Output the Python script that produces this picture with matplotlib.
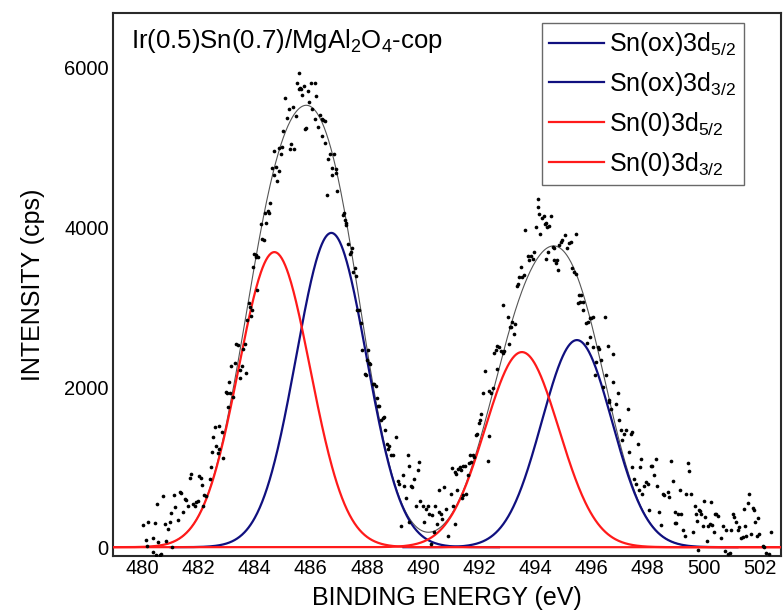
import numpy as np
import matplotlib
matplotlib.use("Agg")
import matplotlib.pyplot as plt

plt.rcParams['font.family'] = ['Liberation Sans', 'DejaVu Sans']
plt.rcParams['mathtext.fontset'] = 'custom'
plt.rcParams['mathtext.rm'] = 'Liberation Sans'
plt.rcParams['mathtext.it'] = 'Liberation Sans:italic'

# ---- measured Sn 3d spectrum (binding energy in eV, intensity in cps) ----
energy_a = [480.02, 480.14, 480.16, 480.20, 480.37, 480.37, 480.43, 480.49, 480.52, 480.56,
            480.62, 480.67, 480.73, 480.79, 480.85, 480.91, 480.97, 481.02, 481.06, 481.14,
            481.17, 481.27, 481.32, 481.38, 481.44, 481.50, 481.56, 481.61, 481.68, 481.74,
            481.80, 481.86, 481.92, 481.97, 482.03, 482.09, 482.13, 482.14, 482.21, 482.26,
            482.39, 482.43, 482.48, 482.51, 482.57, 482.62, 482.68, 482.72, 482.74, 482.83,
            482.86, 482.98]
counts_a = [280, 90, 10, 320, 120, -65, 300, -95, 540, 60,
            -95, -80, 640, 290, 80, 230, 320, 430, 5, 650,
            500, 340, 690, 680, 440, 600, 590, 510, 870, 920,
            540, 520, 560, 580, 890, 870, 780, 520, 650, 640,
            850, 1000, 1190, 1380, 1500, 1270, 1180, 1520, 1230, 1440,
            1110, 1940]

energy_b = [483.00, 483.05, 483.09, 483.11, 483.17, 483.23, 483.29, 483.33, 483.41, 483.47,
            483.49, 483.53, 483.59, 483.65, 483.70, 483.74, 483.80, 483.84, 483.88, 483.91,
            483.94, 483.99, 484.03, 484.05, 484.08, 484.11,
            484.24, 484.27, 484.32, 484.38, 484.41, 484.47, 484.50, 484.55, 484.62, 484.67,
            484.70, 484.76, 484.80, 484.85, 484.88, 484.94, 484.97, 485.02, 485.07, 485.14,
            485.21, 485.26, 485.31, 485.35, 485.41, 485.47, 485.49,
            485.56, 485.59, 485.61, 485.66, 485.70, 485.76, 485.80, 485.84, 485.89, 485.94,
            486.00, 486.05, 486.13, 486.15, 486.20, 486.26, 486.32, 486.39, 486.41, 486.44,
            486.50, 486.51, 486.56, 486.61, 486.67, 486.74, 486.76, 486.82, 486.88, 486.90,
            486.93]
counts_b = [1930, 1750, 2060, 1930, 2260, 1880, 2300, 2540, 2530, 2210,
            2110, 2260, 2480, 2540, 2180, 2840, 3050, 3000, 2890, 2970,
            3500, 3670, 3630, 3660, 3210, 3630,
            4040, 3850, 3840, 4180, 4050, 4210, 4180, 4310, 4740, 4950,
            4650, 4760, 4580, 4700, 4990, 4920, 5000, 5200, 5620, 5370,
            5480, 4980, 5040, 5510, 4980, 5390, 5800,
            5730, 5930, 5740, 5730, 5660, 5770, 5230, 5240, 5710, 5570,
            5810, 5480, 5350, 5800, 5640, 5260, 5410, 5350, 5140, 5340,
            5330, 5060, 4410, 4860, 4920, 4650, 4740, 4920, 4730, 4680,
            4450]

energy_c = [487.13, 487.17, 487.21, 487.24, 487.27, 487.32, 487.38, 487.44, 487.48, 487.50,
            487.56, 487.61, 487.64, 487.72, 487.80, 487.84, 487.92, 487.95, 488.00, 488.03,
            488.07, 488.11,
            488.21, 488.26, 488.32, 488.35, 488.38, 488.42, 488.51, 488.57, 488.62, 488.63,
            488.70, 488.74, 488.80, 488.86, 488.91, 489.03, 489.09, 489.15, 489.21, 489.27,
            489.33, 489.39, 489.45, 489.48, 489.51, 489.56, 489.62, 489.68, 489.74, 489.81,
            489.87, 489.89, 489.98,
            490.04, 490.10, 490.16, 490.22, 490.27, 490.33, 490.40, 490.43, 490.48, 490.55,
            490.57, 490.63, 490.69, 490.75, 490.81]
counts_c = [4150, 4180, 4090, 4060, 4030, 3790, 3670, 3690, 3740, 3440,
            3490, 3390, 2960, 2960, 2800, 2460, 2170, 2150, 2340, 2460,
            2300, 2290,
            2040, 2040, 2020, 1860, 1770, 1760, 1590, 1610, 1630, 1460,
            1290, 1230, 1270, 1150, 1150, 1380, 830, 790, 270, 900,
            770, 620, 1150, 1020, 310, 770, 750, 850, 520, 960,
            1060, 580, 520,
            310, 480, 520, 420, 40, 400, 190, 520, 290, 710,
            440, 420, 350, 750, 480]

energy_d = [490.89, 491.00, 491.04, 491.06, 491.12, 491.13, 491.18, 491.19, 491.24, 491.30,
            491.36, 491.37, 491.42, 491.43, 491.48, 491.54, 491.59, 491.65, 491.66, 491.71,
            491.77, 491.83, 491.88, 491.91, 491.99,
            492.01, 492.07, 492.13, 492.19, 492.30, 492.34, 492.36, 492.42, 492.48, 492.53,
            492.59, 492.62, 492.65, 492.69, 492.77, 492.83, 492.84, 492.88, 493.01, 493.07,
            493.09, 493.13, 493.18, 493.24, 493.28,
            493.36, 493.39, 493.42, 493.47, 493.53, 493.60, 493.64, 493.72, 493.78, 493.83,
            493.92, 493.95, 494.01, 494.08, 494.11, 494.14, 494.16, 494.23, 494.31, 494.35,
            494.37, 494.39, 494.43, 494.46, 494.48,
            494.55, 494.61, 494.67, 494.68, 494.73, 494.78, 494.82, 494.84, 494.90, 494.96,
            495.05, 495.13]
counts_d = [140, 670, 990, 510, 940, 290, 920, 710, 980, 1000,
            960, 620, 1010, 650, 1020, 670, 900, 1050, 1150, 1060,
            1150, 1130, 1400, 1410, 1550,
            1590, 1670, 1930, 2200, 1080, 1950, 1390, 1930, 1990, 2430,
            2460, 2230, 2520, 2500, 2450, 2430, 3030, 2450, 2880, 2540,
            2750, 2750, 2820, 2660, 2790,
            3260, 3290, 3380, 3500, 3380, 3400, 3970, 3640, 3590, 3640,
            3600, 3690, 4010, 4260, 4360, 4170, 3920, 4120, 4140, 4040,
            4060, 3610, 4010, 3690, 4020,
            4140, 3760, 3590, 3740, 3550, 3590, 3470, 3780, 3820, 3840,
            3910, 3740]

energy_e = [495.21, 495.28, 495.29, 495.36, 495.43, 495.46, 495.51, 495.55, 495.60, 495.63,
            495.69, 495.71, 495.82, 495.83, 495.87, 495.93, 495.96, 495.99, 496.05, 496.06,
            496.11, 496.17, 496.22, 496.28, 496.35, 496.41, 496.47, 496.52, 496.58, 496.62,
            496.64, 496.70, 496.76, 496.78, 496.87, 496.93, 496.99, 497.05, 497.10, 497.17,
            497.23, 497.29, 497.35, 497.41, 497.44, 497.46, 497.52, 497.58, 497.64, 497.70,
            497.71, 497.76, 497.81, 497.87, 497.94, 498.00, 498.06, 498.11, 498.17, 498.23,
            498.29, 498.35]
counts_e = [3810, 3820, 3490, 3440, 3920, 3420, 3050, 3150, 3070, 3150,
            2960, 3070, 2800, 2550, 2820, 2860, 2630, 2860, 2880, 2500,
            2150, 2320, 2500, 2480, 2340, 2000, 2880, 2150, 2520, 1840,
            1810, 1730, 2060, 2410, 1790, 1930, 1590, 1460, 1340, 1420,
            1460, 1730, 1190, 1420, 1440, 1000, 850, 790, 1290, 710,
            1000, 1100, 670, 770, 810, 790, 460, 1020, 1020, 900,
            1100, 770]

energy_f = [498.42, 498.47, 498.54, 498.60, 498.72, 498.77, 498.83, 498.90, 498.96, 498.97,
            499.02, 499.08, 499.14, 499.20, 499.26, 499.32, 499.38,
            499.43, 499.49, 499.55, 499.62, 499.68, 499.71, 499.76, 499.79, 499.83, 499.85,
            499.91, 499.97, 500.00, 500.03, 500.10, 500.15, 500.21, 500.27, 500.31, 500.35,
            500.39, 500.45, 500.50, 500.60, 500.68, 500.74, 500.80, 500.86, 500.92, 500.98,
            501.04, 501.09, 501.15, 501.21, 501.27, 501.33, 501.39, 501.44, 501.48, 501.52,
            501.56, 501.62, 501.68, 501.74, 501.78, 501.84, 501.88, 501.92, 501.98, 502.10,
            502.15, 502.21, 502.32, 502.38]
counts_f = [440, 280, 670, 650, 690, 630, 1080, 830, 440, 300,
            300, 420, 710, 410, 210, 140, 670,
            1050, 950, 670, 190, 510, 420, 330, -40, 470, 450,
            420, 260, 580, 380, 80, 270, 290, 560, 280, 190,
            420, 410, 390, 120, 270, -50, 220, -90, -70, 210,
            420, 380, 310, 210, 250, 120, 130, 480, 270, 140,
            550, 670, 170, 490, 460, 310, 140, 370, 160, 10,
            0, -70, -90, 190]

# ---- fitted components (Gaussian peaks) ----
peak_labels = [r'Sn(ox)3d$_{5/2}$', r'Sn(ox)3d$_{3/2}$', r'Sn(0)3d$_{5/2}$', r'Sn(0)3d$_{3/2}$']
peak_centers = [486.73, 495.48, 484.70, 493.52]
peak_heights = [3930, 2590, 3690, 2440]
peak_fwhm = [2.95, 2.95, 3.00, 3.10]

x_ticks = list(range(480, 503, 2))
y_ticks = [0, 2000, 4000, 6000]

sample_label = r'Ir(0.5)Sn(0.7)/MgAl$_2$O$_4$-cop'

energy = np.concatenate([energy_a, energy_b, energy_c, energy_d, energy_e, energy_f])
counts = np.concatenate([counts_a, counts_b, counts_c, counts_d, counts_e, counts_f])


def gauss(x, c, h, w):
    return h * np.exp(-4 * np.log(2) * (x - c) ** 2 / w ** 2)


fig = plt.figure(figsize=(7.83, 6.13), dpi=100)
ax = fig.add_axes([0.1443, 0.093, 0.8531, 0.8858])

xmin, xmax = 478.95, 502.75
ax.set_xlim(xmin, xmax)
ax.set_ylim(-110, 6680)

colors = ['#10107f', '#10107f', '#ff1a1a', '#ff1a1a']
spans = [(481.0, 492.7), (489.3, 501.2), (xmin, xmax), (xmin, xmax)]

xs_full = np.linspace(xmin, xmax, 1200)
envelope = sum(gauss(xs_full, c, h, w) for c, h, w in zip(peak_centers, peak_heights, peak_fwhm))
ax.plot(xs_full, envelope, color='#555555', lw=0.8, zorder=2)

handles = []
for lab, c, h, w, col, (a, b) in zip(peak_labels, peak_centers, peak_heights, peak_fwhm, colors, spans):
    xs = np.linspace(a, b, 800)
    z = 3 if col == '#10107f' else 4
    ln, = ax.plot(xs, gauss(xs, c, h, w), color=col, lw=1.6, zorder=z, label=lab)
    handles.append(ln)

ax.scatter(energy, counts, s=7, color='black', linewidths=0, zorder=5)

ax.set_xticks(x_ticks)
ax.set_yticks(y_ticks)
ax.tick_params(axis='both', length=0, labelsize=14.5)
ax.tick_params(axis='x', pad=2)
ax.tick_params(axis='y', pad=3)

for sp in ax.spines.values():
    sp.set_linewidth(1.5)
    sp.set_color('#2a2a2a')

ax.set_xlabel('BINDING ENERGY (eV)', fontsize=18, labelpad=6)
ax.set_ylabel('INTENSITY (cps)', fontsize=18, labelpad=14)

ax.text(0.027, 0.975, sample_label, transform=ax.transAxes, fontsize=18.5,
        ha='left', va='top')

leg = ax.legend(handles=handles, loc='upper right', bbox_to_anchor=(0.9446, 0.9816),
                fontsize=18, frameon=True, fancybox=False, borderaxespad=0,
                handlelength=2.2, handletextpad=0.2, labelspacing=0.47,
                borderpad=0.3)
leg.get_frame().set_edgecolor('#444444')
leg.get_frame().set_linewidth(1.0)

fig.savefig('out.png', dpi=100)
